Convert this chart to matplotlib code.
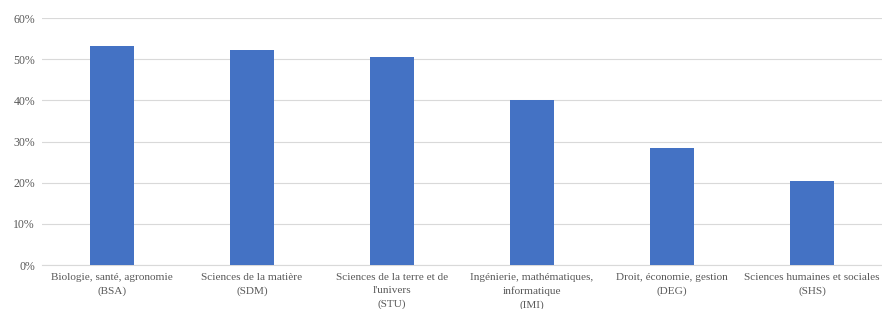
import matplotlib
matplotlib.use("Agg")
import matplotlib.pyplot as plt
from matplotlib.ticker import PercentFormatter

categories = [
    "Biologie, santé, agronomie\n(BSA)",
    "Sciences de la matière\n(SDM)",
    "Sciences de la terre et de\nl'univers\n(STU)",
    "Ingénierie, mathématiques,\ninformatique\n(IMI)",
    "Droit, économie, gestion\n(DEG)",
    "Sciences humaines et sociales\n(SHS)",
]
values = [53.3, 52.2, 50.6, 40.0, 28.3, 20.5]
yticks = [0, 10, 20, 30, 40, 50, 60]

plt.rcParams['font.family'] = ['Liberation Serif', 'DejaVu Serif']

fig = plt.figure(figsize=(8.82, 3.09), dpi=100)
ax = fig.add_axes([42 / 882, 1 - 265 / 309, 840 / 882, 247 / 309])

x = range(len(categories))
ax.bar(x, values, width=0.31, color="#4472C4", zorder=3)

ax.set_xlim(-0.5, len(categories) - 0.5)
ax.set_ylim(0, 60)
ax.set_yticks(yticks)
ax.yaxis.set_major_formatter(PercentFormatter(decimals=0))
ax.grid(axis="y", color="#D9D9D9", linewidth=0.8, zorder=0)
ax.set_xticks(list(x))
ax.set_xticklabels(categories, fontsize=8.1, color="#595959", linespacing=1.55)
ax.tick_params(axis="y", labelsize=8.5, labelcolor="#595959", length=0, pad=5)
ax.tick_params(axis="x", length=0, pad=6)
for s in ["top", "right", "left"]:
    ax.spines[s].set_visible(False)
ax.spines["bottom"].set_color("#D9D9D9")
ax.spines["bottom"].set_linewidth(0.8)

fig.savefig("out.png", dpi=100)
